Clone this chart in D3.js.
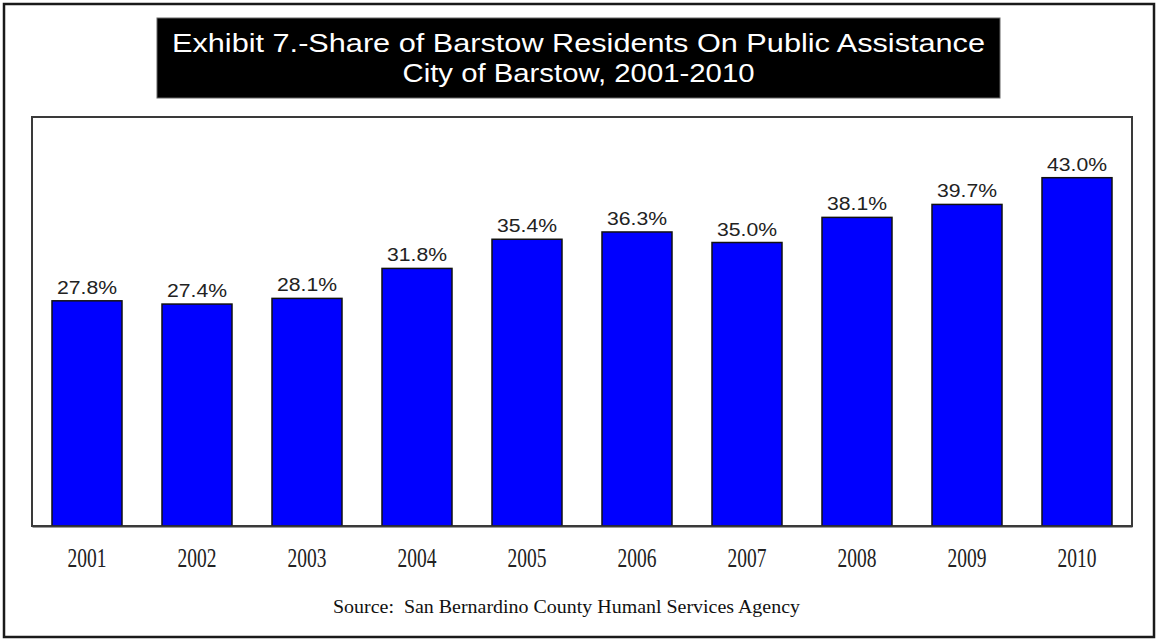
<!DOCTYPE html>
<html>
<head>
<meta charset="utf-8">
<script src="https://cdn.jsdelivr.net/npm/d3@7"></script>
<style>
  html, body { margin: 0; padding: 0; background: #fff; }
  svg { display: block; }
</style>
</head>
<body>
<svg id="chart" width="1158" height="640"></svg>
<script>
// Share of residents on public assistance, by year
const years = ["2001", "2002", "2003", "2004", "2005", "2006", "2007", "2008", "2009", "2010"];
const shares = [27.8, 27.4, 28.1, 31.8, 35.4, 36.3, 35.0, 38.1, 39.7, 43.0];
const titleLines = [
  "Exhibit 7.-Share of Barstow Residents On Public Assistance",
  "City of Barstow, 2001-2010"
];
const sourceNote = "Source:  San Bernardino County Humanl Services Agency";

const svg = d3.select("#chart");
const W = 1158, H = 640;

// outer frame
svg.append("rect")
  .attr("x", 4).attr("y", 4)
  .attr("width", W - 8).attr("height", H - 7)
  .attr("fill", "#fff")
  .attr("stroke", "#1a1a1a").attr("stroke-width", 2.5);

// title banner
const banner = { x: 157, y: 18, w: 843, h: 80 };
svg.append("rect")
  .attr("x", banner.x).attr("y", banner.y)
  .attr("width", banner.w).attr("height", banner.h)
  .attr("fill", "#000")
  .attr("stroke", "#666").attr("stroke-width", 1);

const titleWidths = [813, 352];
const titleBaselines = [52, 82];
svg.append("g").selectAll("text")
  .data(titleLines)
  .join("text")
  .attr("x", banner.x + banner.w / 2)
  .attr("y", (d, i) => titleBaselines[i])
  .attr("text-anchor", "middle")
  .attr("textLength", (d, i) => titleWidths[i])
  .attr("lengthAdjust", "spacingAndGlyphs")
  .attr("fill", "#fff")
  .style("font-family", "'Liberation Sans', Arial, sans-serif")
  .style("font-size", "26.5px")
  .text(d => d);

// plot area
const plot = { left: 32, right: 1132, top: 117, bottom: 526 };

const x = d3.scaleBand()
  .domain(years)
  .range([plot.left, plot.right])
  .paddingInner(0.3636)
  .paddingOuter(0.1818);

const y = d3.scaleLinear()
  .domain([0, 50])
  .range([plot.bottom, 121]);

svg.append("rect")
  .attr("x", plot.left).attr("y", plot.top)
  .attr("width", plot.right - plot.left)
  .attr("height", plot.bottom - plot.top)
  .attr("fill", "#fff")
  .attr("stroke", "#3a3a3a").attr("stroke-width", 2);

const rows = years.map((yr, i) => ({ year: yr, value: shares[i] }));

// bars
svg.append("g").selectAll("rect")
  .data(rows)
  .join("rect")
  .attr("x", d => x(d.year))
  .attr("y", d => y(d.value))
  .attr("width", x.bandwidth())
  .attr("height", d => y(0) - y(d.value))
  .attr("fill", "#0000ff")
  .attr("stroke", "#111")
  .attr("stroke-width", 1.5);

// value labels
svg.append("g").selectAll("text")
  .data(rows)
  .join("text")
  .attr("x", d => x(d.year) + x.bandwidth() / 2)
  .attr("y", d => y(d.value) - 7)
  .attr("text-anchor", "middle")
  .attr("textLength", 60)
  .attr("lengthAdjust", "spacingAndGlyphs")
  .attr("fill", "#222")
  .style("font-family", "'Liberation Sans', Arial, sans-serif")
  .style("font-size", "18px")
  .text(d => d.value.toFixed(1) + "%");

// category axis
const xAxis = svg.append("g")
  .attr("transform", `translate(0,${plot.bottom})`)
  .call(d3.axisBottom(x).tickSize(0).tickPadding(41));
xAxis.select(".domain").attr("stroke", "#3a3a3a").attr("stroke-width", 2);
xAxis.selectAll("text")
  .attr("fill", "#222")
  .attr("dy", null)
  .attr("textLength", 39)
  .attr("lengthAdjust", "spacingAndGlyphs")
  .style("font-family", "'Liberation Serif', 'Times New Roman', serif")
  .style("font-size", "27px");

// source note
svg.append("text")
  .attr("x", 566.5)
  .attr("y", 613)
  .attr("text-anchor", "middle")
  .attr("textLength", 467)
  .attr("lengthAdjust", "spacingAndGlyphs")
  .attr("fill", "#111")
  .attr("xml:space", "preserve")
  .style("white-space", "pre")
  .style("font-family", "'Liberation Serif', 'Times New Roman', serif")
  .style("font-size", "19px")
  .text(sourceNote);
</script>
</body>
</html>
